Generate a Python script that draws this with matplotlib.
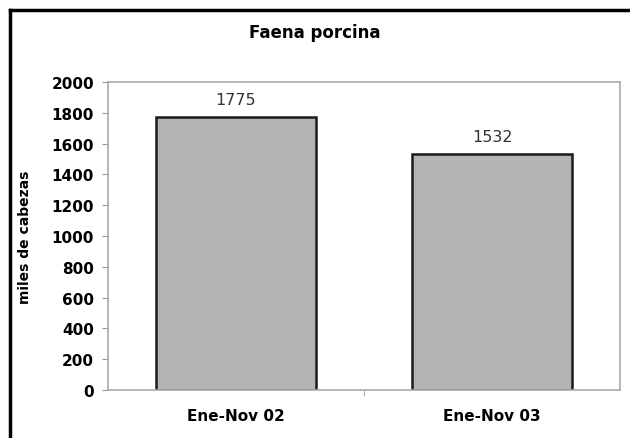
import matplotlib.pyplot as plt
from matplotlib.lines import Line2D

categories = ["Ene-Nov 02", "Ene-Nov 03"]
values = [1775, 1532]
yticks = list(range(0, 2001, 200))

fig = plt.figure(figsize=(6.3, 4.39), dpi=100)
ax = fig.add_axes([108 / 630, 1 - 391 / 439, 512 / 630, 308 / 439])

x = range(len(categories))
ax.bar(x, values, width=0.625, color="#b4b4b4", edgecolor="#1a1a1a", linewidth=1.8)
for i, v in zip(x, values):
    ax.text(i, v + 65, str(v), ha="center", va="bottom", fontsize=11.5, color="#333333")

ax.set_xlim(-0.5, 1.5)
ax.set_ylim(0, 2000)
ax.set_yticks(yticks)
ax.set_yticklabels([str(t) for t in yticks], fontsize=11, fontweight="bold")
ax.set_xticks([0, 1])
ax.set_xticklabels(categories, fontsize=11, fontweight="bold")
ax.tick_params(axis="x", length=0, pad=13)
ax.set_xticks([0.5], minor=True)
ax.tick_params(axis="x", which="minor", length=4, color="#999999", direction="out")
ax.tick_params(axis="y", length=4, color="#999999", direction="out", pad=6)
for s in ax.spines.values():
    s.set_color("#aaaaaa")
    s.set_linewidth(1.2)

ax.set_ylabel("miles de cabezas", fontsize=10, fontweight="bold", labelpad=14)
fig.text(315 / 630, 1 - 33 / 439, "Faena porcina", ha="center", va="center",
         fontsize=12, fontweight="bold")

# outer frame (left and top visible)
fig.add_artist(Line2D([10 / 630, 10 / 630], [0, 1 - 11 / 439], color="black", linewidth=2.5,
                      transform=fig.transFigure))
fig.add_artist(Line2D([10 / 630, 1], [1 - 11 / 439, 1 - 11 / 439], color="black", linewidth=2.5,
                      transform=fig.transFigure))

fig.savefig("out.png", dpi=100)
